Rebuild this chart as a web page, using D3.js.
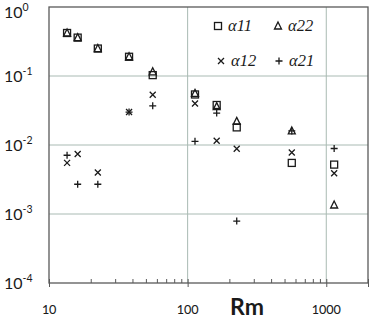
<!DOCTYPE html>
<html><head><meta charset="utf-8">
<script src="https://cdn.jsdelivr.net/npm/d3@7"></script>
<style>body{margin:0;background:#fff;} svg{display:block;}</style>
</head><body>
<svg id="c" width="374" height="320"></svg>
<script>
const rm  = [13.5, 16.1, 22.5, 37.8, 56, 113, 162, 226, 564, 1140];
const a11 = [0.42, 0.36, 0.25, 0.19, 0.103, 0.054, 0.038, 0.018, 0.0055, 0.0052];
const a22 = [0.42, 0.36, 0.25, 0.19, 0.115, 0.056, 0.036, 0.022, 0.016, 0.00135];
const a12 = [0.0055, 0.0074, 0.0040, 0.030, 0.0535, 0.040, 0.0115, 0.0088, 0.0078, 0.0039];
const a21 = [0.0071, 0.0027, 0.0027, 0.030, 0.037, 0.0113, 0.029, 0.00079, 0.016, 0.0089];
const xTickLabels = ["10", "100", "1000"];
const yExponents = ["0", "-1", "-2", "-3", "-4"];
const seriesNames = ["α11", "α22", "α12", "α21"];

const svg = d3.select("#c");
const L = 49, R = 368, T = 7, B = 283;
const x = d3.scaleLog().domain([10, 2000]).range([L, R]);
const y = d3.scaleLog().domain([1e-4, 1]).range([B, T]);
const ink = "#1a1a1a", grid = "#a9bab3", axisC = "#595959";

// gridlines
const gx = svg.append("g");
[1e-3, 1e-2, 1e-1].forEach(v => gx.append("line").attr("x1", L).attr("x2", R)
  .attr("y1", y(v)).attr("y2", y(v)).attr("stroke", grid).attr("stroke-width", 1));
[100, 1000].forEach(v => gx.append("line").attr("x1", x(v)).attr("x2", x(v))
  .attr("y1", T).attr("y2", B).attr("stroke", grid).attr("stroke-width", 1));

// frame
svg.append("rect").attr("x", L).attr("y", T).attr("width", R - L).attr("height", B - T)
  .attr("fill", "none").attr("stroke", axisC).attr("stroke-width", 1.3);

// x axis ticks
const minor = [];
for (let d = 10; d < 2000; d *= 10) for (let k = 2; k <= 9; k++) if (d * k < 2000) minor.push(d * k);
const xaxisG = svg.append("g").attr("transform", `translate(0,${B})`);
xaxisG.call(d3.axisTop(x).tickValues(minor).tickSize(4).tickFormat(""))
  .call(g => g.select(".domain").remove())
  .call(g => g.selectAll("line").attr("stroke", axisC));
const majG = svg.append("g").attr("transform", `translate(0,${B})`);
majG.call(d3.axisBottom(x).tickValues([10, 100, 1000, 2000]).tickSize(4).tickFormat(""))
  .call(g => g.select(".domain").remove())
  .call(g => g.selectAll("line").attr("stroke", axisC));
majG.call(g => g.selectAll(".tick").append("line").attr("y1", 0).attr("y2", -4).attr("stroke", axisC));

// x tick labels
[10, 100, 1000].forEach((v, i) => svg.append("text").attr("x", x(v)).attr("y", 314)
  .attr("text-anchor", "middle").attr("font-family", "Carlito, Lato, 'Open Sans', sans-serif")
  .attr("font-size", 14.5).attr("fill", ink).text(xTickLabels[i]));
svg.append("text").attr("x", 247).attr("y", 315).attr("text-anchor", "middle")
  .attr("font-family", "Lato, 'Open Sans', sans-serif").attr("font-weight", "bold")
  .attr("font-size", 23).attr("fill", ink).text("Rm");

// y tick labels
[1, 1e-1, 1e-2, 1e-3, 1e-4].forEach((v, i) => {
  const by = Math.max(y(v) + 6, 18);
  const t = svg.append("text").attr("x", 4).attr("y", by)
    .attr("font-family", "Lato, 'Open Sans', sans-serif").attr("font-size", 16).attr("fill", ink);
  t.append("tspan").text("10");
  t.append("tspan").attr("dy", -7).attr("font-size", 10.5).text(yExponents[i]);
});

// markers
const g = svg.append("g").attr("fill", "none").attr("stroke", ink).attr("stroke-width", 1.3);
const sq = (cx, cy) => g.append("rect").attr("x", cx - 3.5).attr("y", cy - 3.5).attr("width", 7).attr("height", 7);
const tri = (cx, cy) => g.append("path").attr("d", `M${cx},${cy - 4}L${cx + 3.5},${cy + 3}L${cx - 3.5},${cy + 3}Z`);
const cross = (cx, cy) => g.append("path").attr("d", `M${cx - 3},${cy - 3}L${cx + 3},${cy + 3}M${cx + 3},${cy - 3}L${cx - 3},${cy + 3}`);
const plus = (cx, cy) => g.append("path").attr("d", `M${cx - 3.5},${cy}L${cx + 3.5},${cy}M${cx},${cy - 3.5}L${cx},${cy + 3.5}`);

rm.forEach((r, i) => {
  sq(x(r), y(a11[i]));
  tri(x(r), y(a22[i]));
  cross(x(r), y(a12[i]));
  plus(x(r), y(a21[i]));
});

// legend
const lg = svg.append("g");
const legendFont = "'Liberation Serif', 'Times New Roman', serif";
const items = [[218, 26, sq, 0], [278, 26, tri, 1], [221, 61, cross, 2], [279, 61, plus, 3]];
items.forEach(([lx, ly, fn, k]) => {
  fn(lx, ly);
  lg.append("text").attr("x", lx + 10).attr("y", ly + 5).attr("font-family", legendFont)
    .attr("font-style", "italic").attr("font-size", 16.5).attr("fill", ink).text(seriesNames[k]);
});
</script>
</body></html>
